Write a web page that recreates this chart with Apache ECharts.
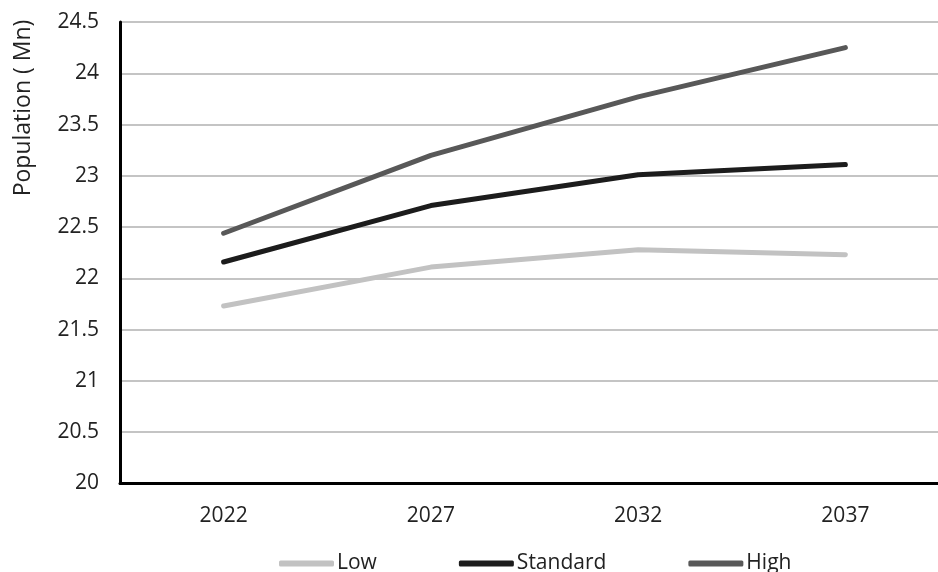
<!DOCTYPE html>
<html>
<head>
<meta charset="utf-8">
<style>
  html, body { margin: 0; padding: 0; background: #ffffff; }
  #chart { width: 938px; height: 572px; }
</style>
<script src="https://cdn.jsdelivr.net/npm/echarts@6/dist/echarts.min.js"></script>
</head>
<body>
<div id="chart"></div>
<script>
// Population projections, millions
const years = ['2022', '2027', '2032', '2037'];
const lowValues = [21.73, 22.11, 22.28, 22.23];
const standardValues = [22.16, 22.71, 23.01, 23.11];
const highValues = [22.44, 23.20, 23.77, 24.25];

const font = '"Open Sans", "Noto Sans", sans-serif';
const textColor = '#222222';

const chart = echarts.init(document.getElementById('chart'));

function lineSeries(name, values, color) {
  return {
    name: name,
    type: 'line',
    data: values,
    symbol: 'none',
    lineStyle: { color: color, width: 5, cap: 'round', join: 'round' },
    itemStyle: { color: color },
    emphasis: { disabled: true }
  };
}

chart.setOption({
  animation: false,
  backgroundColor: '#ffffff',
  // plot area runs slightly past the right edge of the canvas
  grid: { left: 120, top: 22, width: 829, height: 461.5, outerBoundsMode: 'none', containLabel: false },
  legend: {
    left: 279,
    top: 553,
    padding: 0,
    itemWidth: 55,
    itemHeight: 6,
    itemGap: 82,
    icon: 'roundRect',
    textStyle: { fontFamily: font, fontSize: 21, color: textColor, padding: [0, 0, 0, -2] },
    data: ['Low', 'Standard', 'High']
  },
  graphic: [{
    type: 'text',
    x: 23,
    y: 108,
    rotation: Math.PI / 2,
    style: {
      text: 'Population ( Mn)',
      fontFamily: font,
      fontSize: 23,
      fill: textColor,
      align: 'center',
      verticalAlign: 'middle'
    }
  }],
  xAxis: {
    type: 'category',
    data: years,
    boundaryGap: true,
    axisLine: { lineStyle: { color: '#000000', width: 3 } },
    axisTick: { show: false },
    axisLabel: { fontFamily: font, fontSize: 21, color: textColor, margin: 22 }
  },
  yAxis: {
    type: 'value',
    min: 20,
    max: 24.5,
    interval: 0.5,
    axisLine: { show: true, lineStyle: { color: '#000000', width: 3 } },
    axisTick: { show: false },
    axisLabel: { fontFamily: font, fontSize: 21, color: textColor, margin: 21 },
    splitLine: { lineStyle: { color: '#c4c4c4', width: 2 } }
  },
  series: [
    lineSeries('Low', lowValues, '#c2c2c2'),
    lineSeries('Standard', standardValues, '#1c1c1c'),
    lineSeries('High', highValues, '#585858')
  ]
});
</script>
</body>
</html>
